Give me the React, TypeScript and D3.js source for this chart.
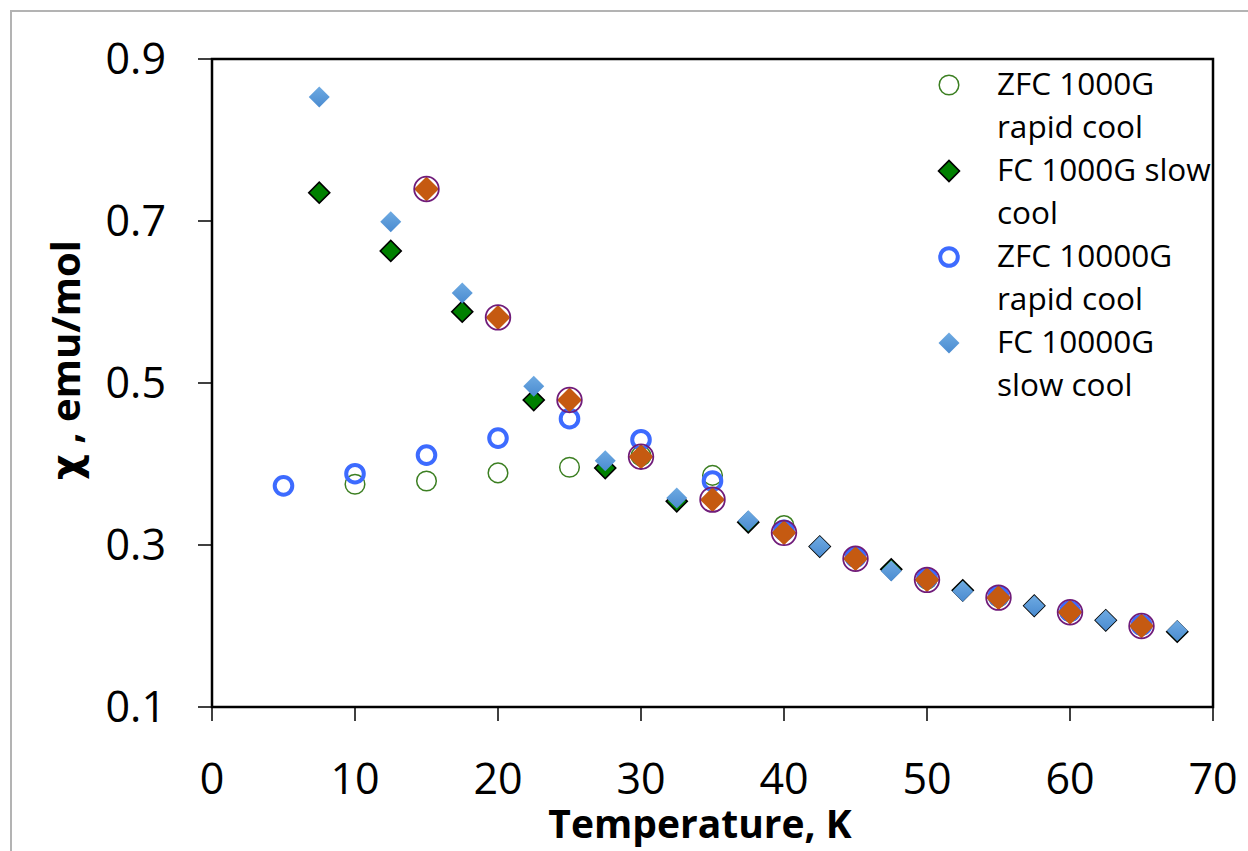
import React from "react";
import * as d3 from "d3";

const xTicks = [0, 10, 20, 30, 40, 50, 60, 70];
const yTicks = [0.1, 0.3, 0.5, 0.7, 0.9];

const tHalf = [7.5, 12.5, 17.5, 22.5, 27.5, 32.5, 37.5, 42.5, 47.5, 52.5, 57.5, 62.5, 67.5];
const fc1000 = [0.735, 0.663, 0.588, 0.479, 0.395, 0.354, 0.328, 0.298, 0.27, 0.244, 0.225, 0.207, 0.193];
const fc10000 = [0.853, 0.699, 0.611, 0.496, 0.404, 0.358, 0.33, 0.298, 0.268, 0.243, 0.225, 0.207, 0.194];

const tZfc1000 = [10, 15, 20, 25, 30, 35, 40, 45, 50, 55, 60, 65];
const zfc1000 = [0.375, 0.379, 0.389, 0.396, 0.41, 0.386, 0.324, 0.285, 0.258, 0.236, 0.218, 0.201];

const tZfc10000 = [5, 10, 15, 20, 25, 30, 35, 40, 45, 50, 55, 60, 65];
const zfc10000 = [0.373, 0.388, 0.411, 0.432, 0.456, 0.43, 0.379, 0.318, 0.285, 0.259, 0.237, 0.218, 0.201];

const tExtra = [15, 20, 25, 30, 35, 40, 45, 50, 55, 60, 65];
const extraCircle = [0.7395, 0.581, 0.479, 0.409, 0.356, 0.315, 0.283, 0.257, 0.235, 0.217, 0.2];
const extraDiamond = [0.7395, 0.581, 0.479, 0.409, 0.356, 0.315, 0.283, 0.257, 0.235, 0.217, 0.2];

const legendLabels = [
  ["ZFC 1000G", "rapid cool"],
  ["FC 1000G slow", "cool"],
  ["ZFC 10000G", "rapid cool"],
  ["FC 10000G", "slow cool"],
];

const FONT = "'Open Sans', 'Liberation Sans', sans-serif";

const L = 212, R = 1213, T = 59, B = 707;

export default function App() {
  const x = d3.scaleLinear().domain([0, 70]).range([L, R]);
  const y = d3.scaleLinear().domain([0.1, 0.9]).range([B, T]);
  const diamond = (half: number) =>
    d3.symbol().type(d3.symbolSquare).size((half * Math.SQRT2) ** 2)() as string;

  const greenCircle = (cx: number, cy: number, k: string) => (
    <circle key={k} cx={cx} cy={cy} r={9.8} fill="none" stroke="#3c7f22" strokeWidth={1.5} />
  );
  const greenDiamond = (cx: number, cy: number, k: string) => (
    <path key={k} d={diamond(10.5)} transform={`translate(${cx},${cy}) rotate(45)`} fill="#008000" stroke="#000" strokeWidth={1.6} />
  );
  const blueCircle = (cx: number, cy: number, k: string) => (
    <circle key={k} cx={cx} cy={cy} r={8.8} fill="none" stroke="#3d6bff" strokeWidth={4} />
  );
  const lightDiamond = (cx: number, cy: number, k: string) => (
    <path key={k} d={diamond(10.5)} transform={`translate(${cx},${cy}) rotate(45)`} fill="url(#lbGrad)" />
  );

  return (
    <svg width={1248} height={851} style={{ position: "absolute", left: 0, top: 0, background: "#fff" }} fontFamily={FONT}>
      <defs>
        <linearGradient id="lbGrad" x1="0" y1="0" x2="1" y2="1">
          <stop offset="0" stopColor="#6eaae2" />
          <stop offset="1" stopColor="#4a8bd0" />
        </linearGradient>
      </defs>
      <rect x={0} y={0} width={1248} height={851} fill="#fff" />
      <rect x={11} y={11} width={1300} height={900} fill="none" stroke="#b3b3b3" strokeWidth={2} />

      {/* frame */}
      <rect x={L} y={T} width={R - L} height={B - T} fill="none" stroke="#000" strokeWidth={2.5} />
      {yTicks.map((t) => (
        <g key={"y" + t}>
          <line x1={L - 14} x2={L} y1={y(t)} y2={y(t)} stroke="#000" strokeWidth={1.5} />
          <text x={166} y={y(t) + 15} textAnchor="end" fontSize={43} fill="#000">
            {t.toFixed(1)}
          </text>
        </g>
      ))}
      {xTicks.map((t) => (
        <g key={"x" + t}>
          <line x1={x(t)} x2={x(t)} y1={B} y2={B + 14} stroke="#000" strokeWidth={1.5} />
          <text x={x(t)} y={794} textAnchor="middle" fontSize={43} fill="#000">
            {t}
          </text>
        </g>
      ))}
      <text x={700} y={838} textAnchor="middle" fontSize={39} fontWeight="bold" fill="#000">
        Temperature, K
      </text>
      <text transform="translate(80,360) rotate(-90)" textAnchor="middle" fontSize={40} fontWeight="bold" fill="#000">
        <tspan fontFamily="'DejaVu Sans', sans-serif">χ</tspan>
        <tspan> , emu/mol</tspan>
      </text>

      {/* series */}
      {tZfc1000.map((t, i) => greenCircle(x(t), y(zfc1000[i]), "gc" + i))}
      {tHalf.map((t, i) => greenDiamond(x(t), y(fc1000[i]), "gd" + i))}
      {tZfc10000.map((t, i) => blueCircle(x(t), y(zfc10000[i]), "bc" + i))}
      {tHalf.map((t, i) => lightDiamond(x(t), y(fc10000[i]), "ld" + i))}
      {tExtra.map((t, i) => (
        <path key={"od" + i} d={diamond(12.5)} transform={`translate(${x(t)},${y(extraDiamond[i])}) rotate(45)`} fill="#c55a11" />
      ))}
      {tExtra.map((t, i) => (
        <circle key={"pc" + i} cx={x(t)} cy={y(extraCircle[i])} r={12.3} fill="none" stroke="#701c7a" strokeWidth={1.8} />
      ))}

      {/* legend */}
      {legendLabels.map((lines, i) => {
        const base = 95 + i * 86;
        const mx = 949, my = base - 10;
        return (
          <g key={"lg" + i}>
            {i === 0 && greenCircle(mx, my, "l0")}
            {i === 1 && greenDiamond(mx, my, "l1")}
            {i === 2 && blueCircle(mx, my, "l2")}
            {i === 3 && lightDiamond(mx, my, "l3")}
            {lines.map((s, j) => (
              <text key={j} x={997} y={base + j * 43} fontSize={31.5} fill="#000">
                {s}
              </text>
            ))}
          </g>
        );
      })}
    </svg>
  );
}
